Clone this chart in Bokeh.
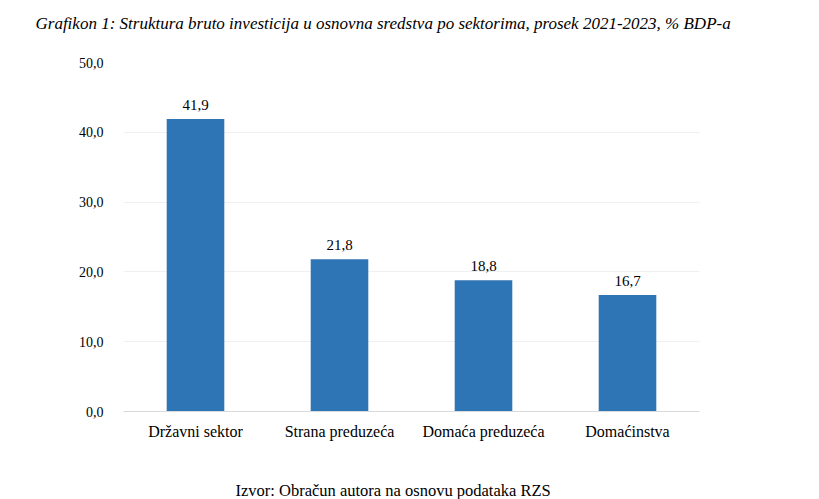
from bokeh.plotting import figure
from bokeh.models import Title, ColumnDataSource, FixedTicker
from bokeh.core.properties import value
from bokeh.embed import file_html
from bokeh.resources import INLINE

categories = ["Državni sektor", "Strana preduzeća", "Domaća preduzeća", "Domaćinstva"]
values = [41.9, 21.8, 18.8, 16.7]
y_ticks = [0, 10, 20, 30, 40, 50]
title_text = "Grafikon 1: Struktura bruto investicija u osnovna sredstva po sektorima, prosek 2021-2023, % BDP-a"
source_text = "Izvor: Obračun autora na osnovu podataka RZS"

FONT = "Liberation Serif"

labels = [f"{v:.1f}".replace(".", ",") for v in values]
src = ColumnDataSource(dict(cat=categories, val=values, lab=labels))

p = figure(width=819, height=499, x_range=categories, y_range=(0, 50),
           output_backend="svg", toolbar_location=None,
           min_border_left=123, min_border_right=120, min_border_top=62, min_border_bottom=87)
p.outline_line_color = None
p.background_fill_color = "white"
p.border_fill_color = "white"

p.vbar(x="cat", top="val", width=0.4, source=src, fill_color="#2E75B6", line_color=None)
p.text(x="cat", y="val", text="lab", source=src, text_align="center", text_baseline="bottom",
       y_offset=-9, text_font=value(FONT), text_font_size="15px", text_color="#000000")

p.yaxis.ticker = FixedTicker(ticks=y_ticks)
p.yaxis.major_label_overrides = {t: f"{t:.1f}".replace(".", ",") for t in y_ticks}
p.yaxis.axis_line_color = None
p.yaxis.major_tick_line_color = None
p.yaxis.minor_tick_line_color = None
p.yaxis.major_label_text_font = FONT
p.yaxis.major_label_text_font_size = "14px"
p.yaxis.major_label_text_color = "#000000"
p.yaxis.major_label_standoff = 14

p.xaxis.axis_line_color = "#d9d9d9"
p.xaxis.major_tick_line_color = None
p.xaxis.minor_tick_line_color = None
p.xaxis.major_label_text_font = FONT
p.xaxis.major_label_text_font_size = "16px"
p.xaxis.major_label_text_color = "#000000"
p.xaxis.major_label_standoff = 5

p.xgrid.grid_line_color = None
p.ygrid.grid_line_color = "#f0f0f0"

# spacer panels to push the title and source note outward
p.add_layout(Title(text=" ", text_font_size="1px", standoff=27), "above")
t = Title(text=title_text, text_font=FONT, text_font_style="italic", text_font_size="17px",
          align="left", offset=-88, standoff=0, text_color="#000000")
p.add_layout(t, "above")

p.add_layout(Title(text=" ", text_font_size="1px", standoff=33), "below")
s = Title(text=source_text, text_font=FONT, text_font_style="normal", text_font_size="16.5px",
          align="left", text_color="#000000", offset=112, standoff=0)
p.add_layout(s, "below")

open("out.html", "w").write(file_html(p, INLINE))
